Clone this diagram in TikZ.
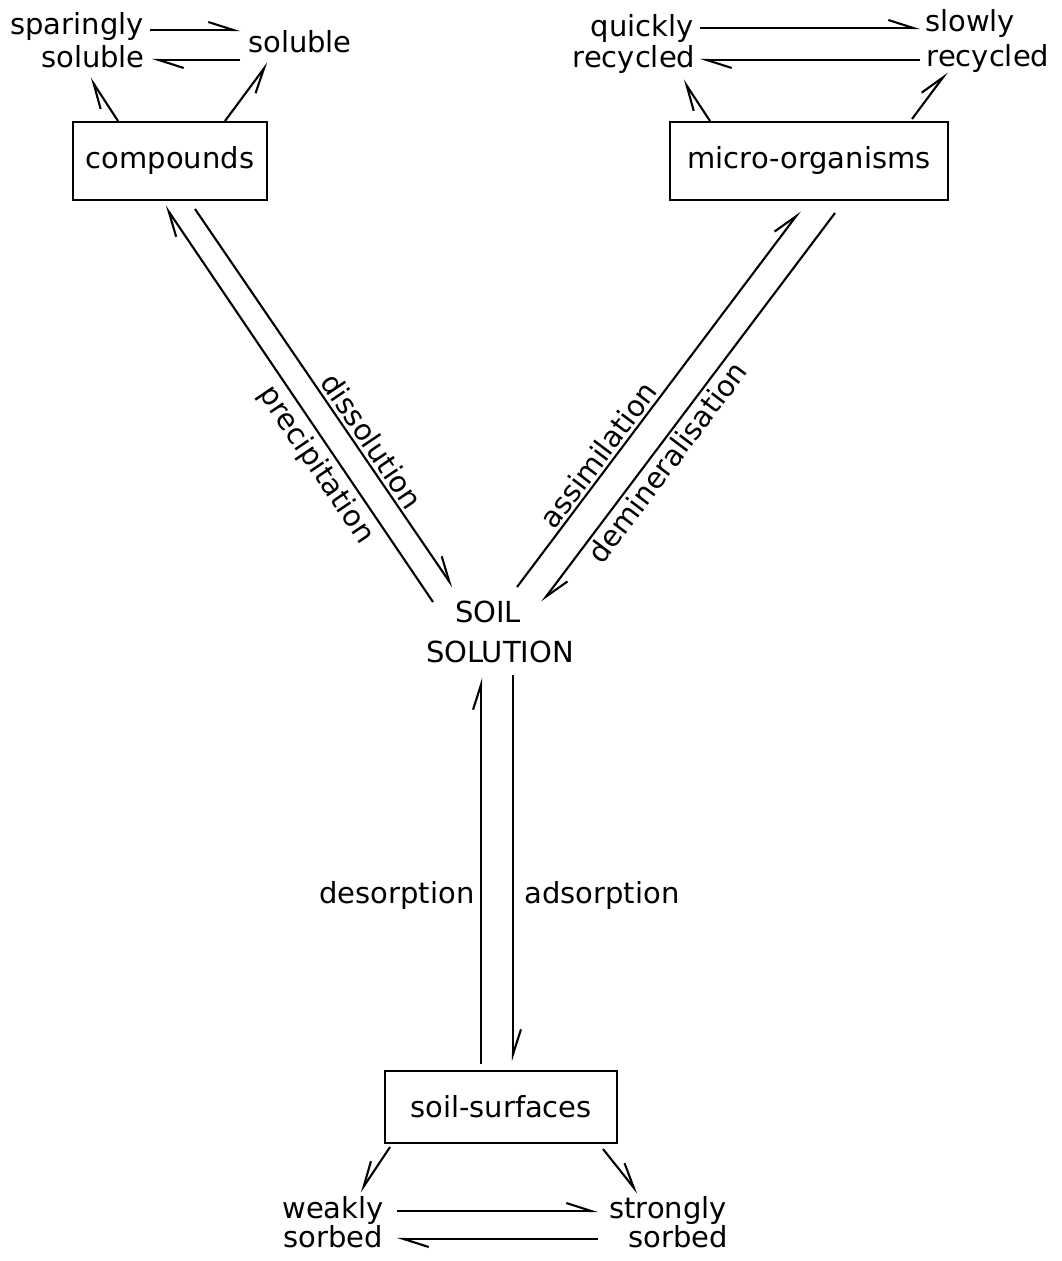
\documentclass[tikz,border=0pt]{standalone}
\usepackage{fontspec}
\setmainfont{DejaVu Sans}
\usepackage{tikz}
\usetikzlibrary{arrows.meta, positioning}

\begin{document}
\begin{tikzpicture}[x=0.5pt, y=-0.5pt,
    box/.style={draw, line width=1pt, minimum height=39pt, inner sep=0pt, font=\fontsize{14.5}{17}\selectfont},
    lbl/.style={anchor=base, inner sep=0pt, font=\fontsize{14.5}{17}\selectfont},
    harp/.style={line width=1.05pt, -{Straight Barb[harpoon, length=12.5pt, width=8pt]}},
    harpsw/.style={line width=1.05pt, -{Straight Barb[harpoon, swap, length=12.5pt, width=8pt]}}]
  \useasboundingbox (0,0) rectangle (1061,1261);

  % boxes
  \node[box, minimum width=97pt] (comp) at (170,161) {compounds};
  \node[box, minimum width=139pt] (micro) at (809,161) {micro-organisms};
  \node[box, minimum width=116pt, minimum height=36pt] (surf) at (501,1107) {soil-surfaces};

  % soil solution
  \node[lbl] (soil) at (488,622) {SOIL};
  \node[lbl] (solution) at (500,662) {SOLUTION};

  % labels round compounds
  \node[lbl] (spar) at (77,35) {sparingly};
  \node[lbl] (solA) at (93,68) {soluble};
  \node[lbl] (solB) at (300,53) {soluble};
  \draw[harp] ([shift={(73,-5)}]spar.base) -- ([shift={(-60,-23)}]solB.base);
  \draw[harp] ([shift={(-60,7)}]solB.base) -- ([shift={(59,-8)}]solA.base);
  \draw[harp] ([shift={(-52,0)}]comp.north) -- ([shift={(-3,10)}]solA.base);
  \draw[harpsw] ([shift={(55,0)}]comp.north) -- ([shift={(-32,10)}]solB.base);

  % labels round micro-organisms
  \node[lbl] (quick) at (642,37) {quickly};
  \node[lbl] (recA) at (634,68) {recycled};
  \node[lbl] (slow) at (970,32) {slowly};
  \node[lbl] (recB) at (988,67) {recycled};
  \draw[harp] ([shift={(58,-9)}]quick.base) -- ([shift={(-50,-4)}]slow.base);
  \draw[harp] ([shift={(-68,-7)}]recB.base) -- ([shift={(66,-8)}]recA.base);
  \draw[harp] ([shift={(-99,0)}]micro.north) -- ([shift={(49,12)}]recA.base);
  \draw[harp] ([shift={(103,-2)}]micro.north) -- ([shift={(-41,5)}]recB.base);

  % labels below soil-surfaces
  \node[lbl] (weak) at (333,1218) {weakly};
  \node[lbl] (sorbA) at (333,1247) {sorbed};
  \node[lbl] (strong) at (668,1218) {strongly};
  \node[lbl] (sorbB) at (678,1247) {sorbed};
  \draw[harp] ([shift={(64,-7)}]weak.base) -- ([shift={(-70,-7)}]strong.base);
  \draw[harp] ([shift={(-80,-8)}]sorbB.base) -- ([shift={(64,-8)}]sorbA.base);
  \draw[harpsw] ([shift={(-111,3)}]surf.south) -- ([shift={(27,-26)}]weak.base);
  \draw[harp] ([shift={(102,5)}]surf.south) -- ([shift={(-30,-25)}]strong.base);

  % exchanges with the soil solution
  \draw[harp] ([shift={(-55,-20)}]soil.base) -- ([shift={(-5,5)}]comp.south);
  \draw[harp] ([shift={(25,8)}]comp.south) -- ([shift={(-35,-35)}]soil.base);
  \draw[harp] ([shift={(29,-35)}]soil.base) -- ([shift={(-9,10)}]micro.south);
  \draw[harp] ([shift={(26,12)}]micro.south) -- ([shift={(54,-20)}]soil.base);
  \draw[harp] ([shift={(-20,-6)}]surf.north) -- ([shift={(-19,16)}]solution.base);
  \draw[harp] ([shift={(13,13)}]solution.base) -- ([shift={(12,-9)}]surf.north);

  \node[lbl, anchor=center, rotate=-56] (prec) at (316,465) {precipitation};
  \node[lbl, anchor=center, rotate=-56] (diss) at (372,441) {dissolution};
  \node[lbl, anchor=center, rotate=53] (assim) at (598,455) {assimilation};
  \node[lbl, anchor=center, rotate=53] (demin) at (667,462) {demineralisation};
  \node[lbl] (desorp) at (397,903) {desorption};
  \node[lbl] (adsorp) at (602,903) {adsorption};
\end{tikzpicture}
\end{document}
